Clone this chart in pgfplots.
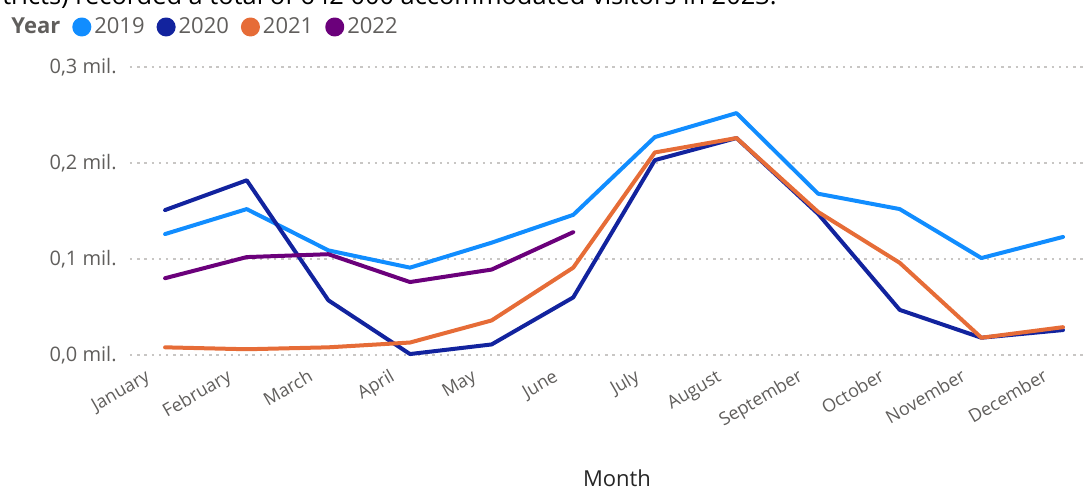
\documentclass[border=0pt]{standalone}
\usepackage{pgfplots}
\pgfplotsset{compat=1.18}
\usepackage{fontspec}
\setmainfont{Open Sans}

\definecolor{c2019}{HTML}{118DFF}
\definecolor{c2020}{HTML}{12239E}
\definecolor{c2021}{HTML}{E66C37}
\definecolor{c2022}{HTML}{6B007B}
\definecolor{labelgray}{HTML}{605E5C}
\definecolor{gridgray}{HTML}{C8C6C4}

\pgfplotsset{
  yearline/.style={mark=none, line width=2pt, line join=round, line cap=round},
  dotlegend/.style={legend image code/.code={\fill (0pt,0pt) circle (3.75pt);}},
}

\begin{document}
\begin{tikzpicture}
% 1 px of the reference = 0.5pt
\path[use as bounding box] (0pt,0pt) rectangle (541.5pt,-244.5pt);

\node[anchor=base east, font=\fontsize{12.7}{14}\selectfont, text=black, inner sep=0pt]
  at (388.5pt,-2.3pt) {tricts) recorded a total of 642 000 accommodated visitors in 2023.};

\begin{axis}[
  at={(65pt,-177.5pt)}, anchor=south west,
  scale only axis, width=476.5pt, height=144pt,
  xmin=-0.43, xmax=11.245, ymin=0, ymax=0.3,
  clip=false,
  axis line style={draw=none},
  major tick style={draw=none},
  ytick={0,0.1,0.2,0.3},
  yticklabels={{0,0 mil.},{0,1 mil.},{0,2 mil.},{0,3 mil.}},
  ymajorgrids,
  major grid style={gridgray, line width=0.6pt, dash pattern=on 1.2pt off 2.4pt},
  xtick={0,...,11},
  xticklabels={January,February,March,April,May,June,July,August,September,October,November,December},
  tick label style={text=labelgray},
  yticklabel style={font=\fontsize{10}{12}\selectfont, anchor=east, inner sep=0pt, xshift=-6.5pt},
  xticklabel style={font=\fontsize{9}{11}\selectfont, inner sep=0pt,
    xshift=-7pt, yshift=-12.5pt, rotate=30, anchor=base east},
  xlabel={Month},
  xlabel style={at={(axis description cs:0.511,-0.427)}, anchor=center,
    font=\fontsize{11}{13}\selectfont, text=black!85},
  legend columns=5,
  legend style={at={(axis description cs:-0.128,1.139)}, anchor=west,
    draw=none, fill=none, inner sep=0pt,
    nodes={inner sep=0pt},
    font=\fontsize{11}{13}\selectfont, text=labelgray,
    /tikz/every odd column/.append style={column sep=1.5pt},
    /tikz/every even column/.append style={column sep=6pt}},
]

\addlegendimage{empty legend}
\addlegendentry{\textbf{Year}\hspace{8.5pt}}

\addplot+[yearline, color=c2019, dotlegend] coordinates {
  (0, 0.126) (1, 0.152) (2, 0.109) (3, 0.091) (4, 0.117) (5, 0.146)
  (6, 0.227) (7, 0.252) (8, 0.168) (9, 0.152) (10, 0.101) (11, 0.123)
};
\addlegendentry{2019}

\addplot+[yearline, color=c2020, dotlegend] coordinates {
  (0, 0.151) (1, 0.182) (2, 0.057) (3, 0.001) (4, 0.011) (5, 0.060)
  (6, 0.203) (7, 0.226) (8, 0.147) (9, 0.047) (10, 0.018) (11, 0.026)
};
\addlegendentry{2020}

\addplot+[yearline, color=c2021, dotlegend] coordinates {
  (0, 0.008) (1, 0.006) (2, 0.008) (3, 0.013) (4, 0.036) (5, 0.091)
  (6, 0.211) (7, 0.226) (8, 0.149) (9, 0.096) (10, 0.018) (11, 0.029)
};
\addlegendentry{2021}

\addplot+[yearline, color=c2022, dotlegend] coordinates {
  (0, 0.080) (1, 0.102) (2, 0.105) (3, 0.076) (4, 0.089) (5, 0.128)
};
\addlegendentry{2022}

\end{axis}
\end{tikzpicture}
\end{document}
